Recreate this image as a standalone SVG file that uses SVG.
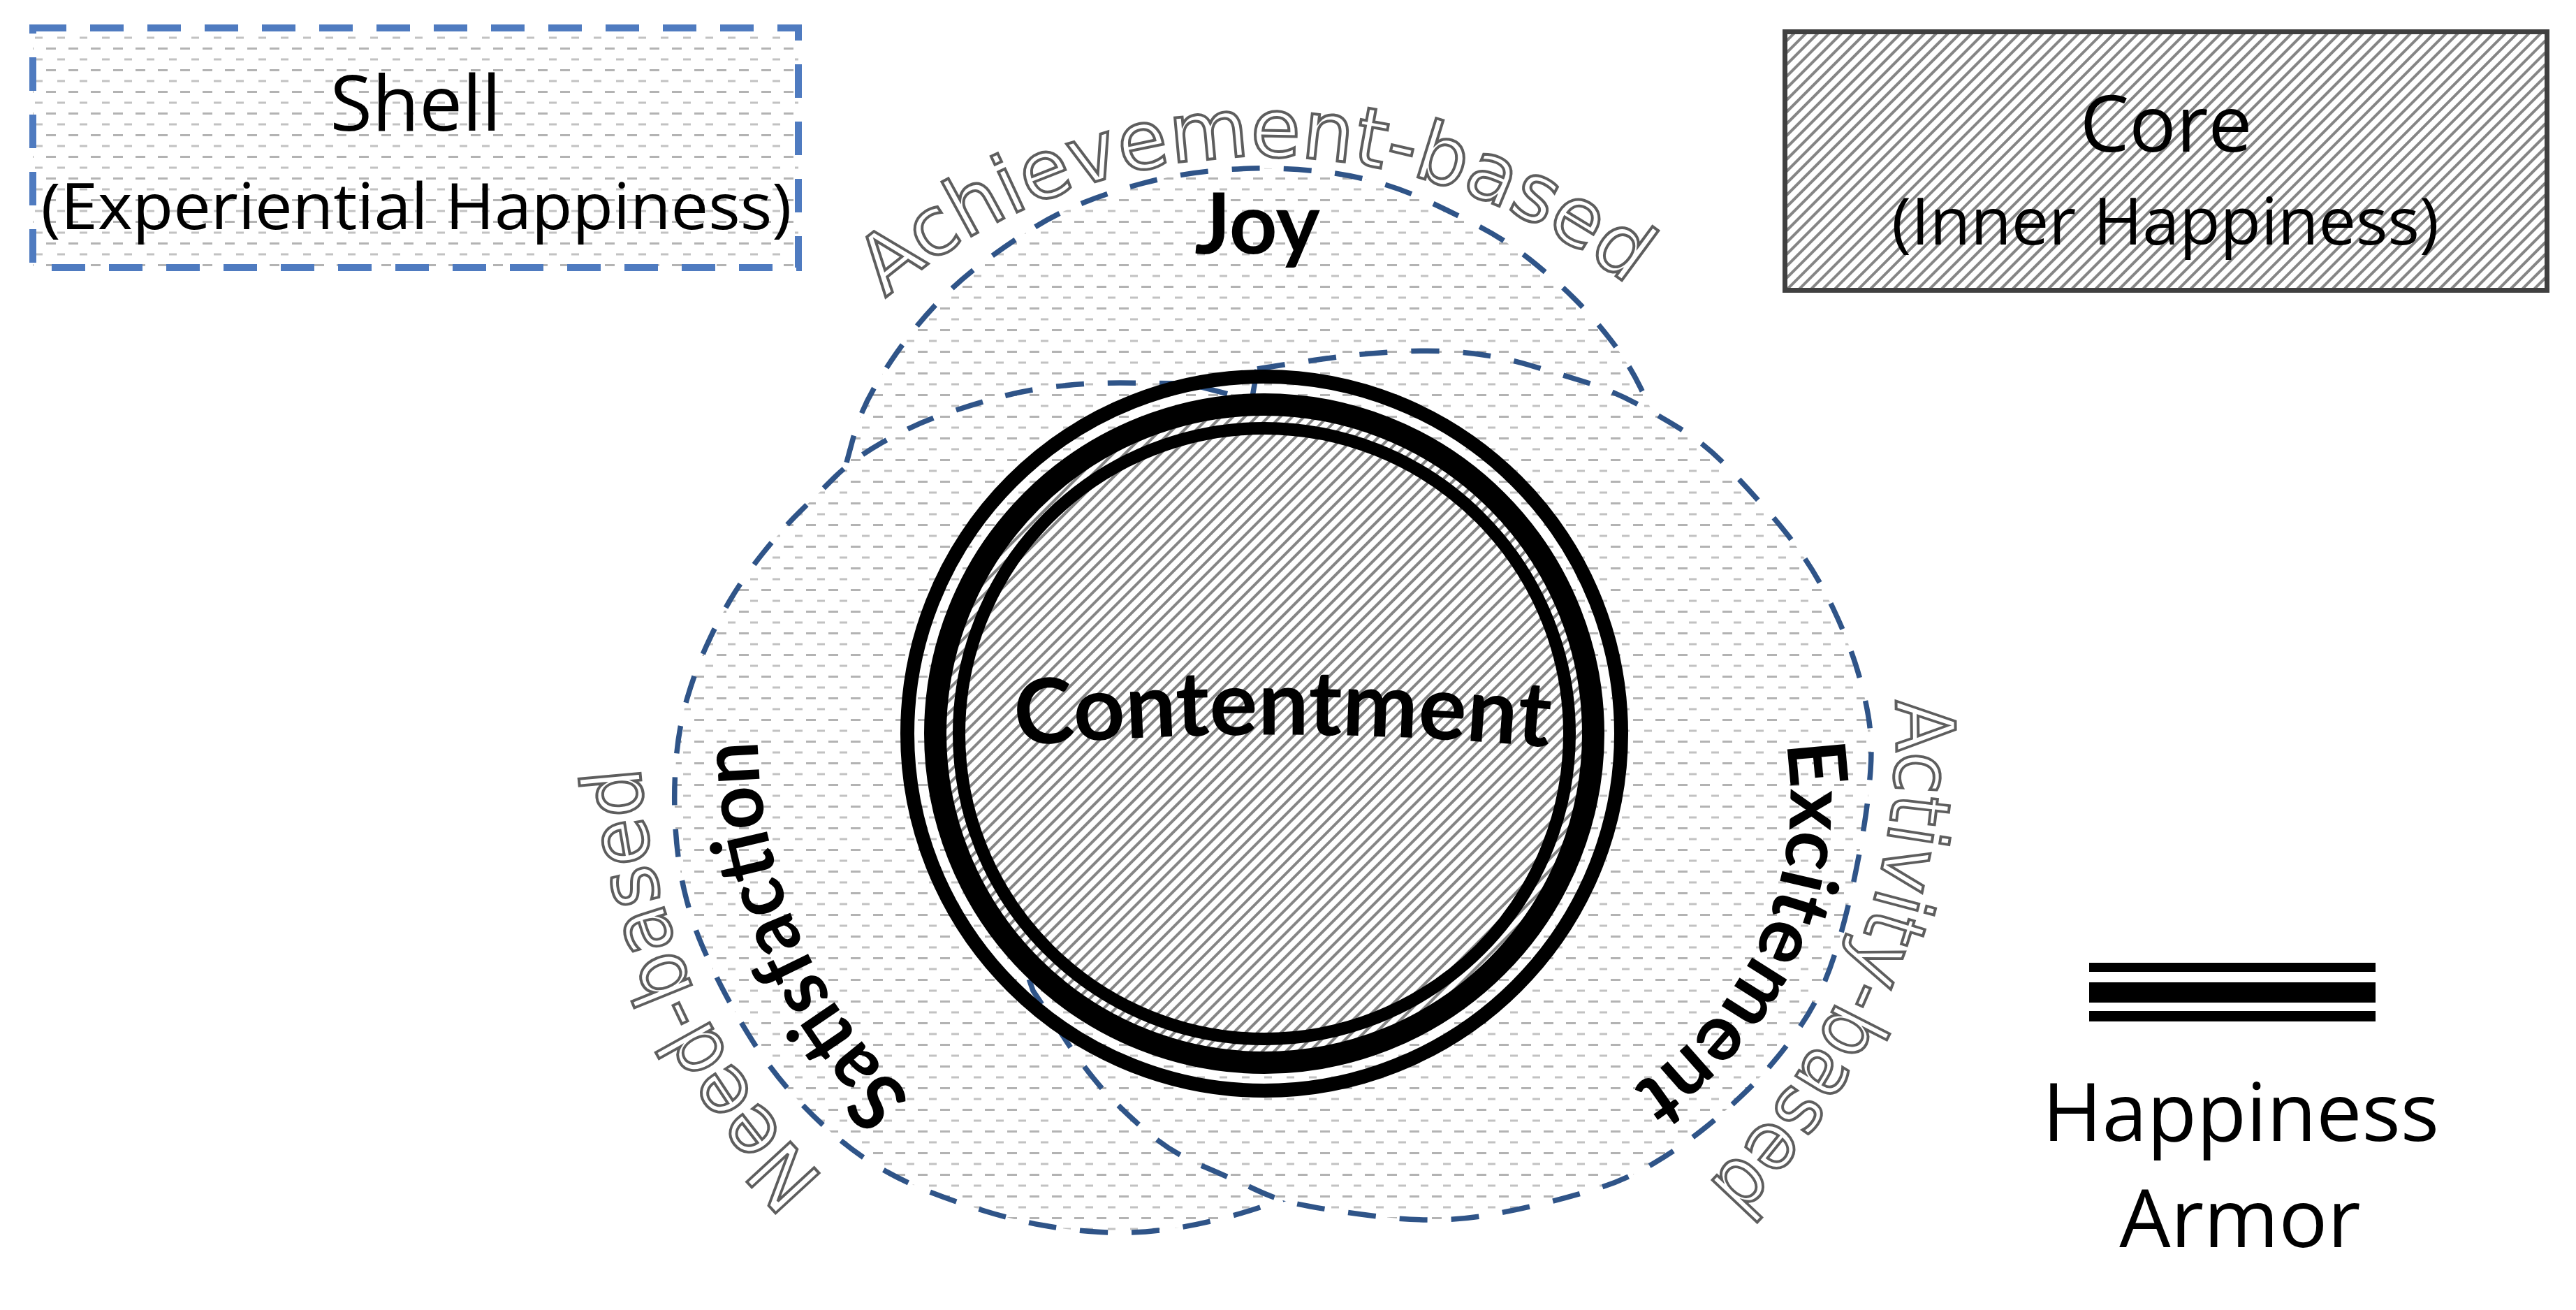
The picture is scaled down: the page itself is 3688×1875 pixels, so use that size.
<svg xmlns="http://www.w3.org/2000/svg" width="3688" height="1875" viewBox="0 0 3688 1875">
<defs>
  <pattern id="shellPat" patternUnits="userSpaceOnUse" width="32" height="31">
    <rect width="32" height="31" fill="#fff"/>
    <rect x="2" y="6" width="14" height="3" fill="#b3b3b3"/>
    <rect x="18" y="21.5" width="11" height="3" fill="#c2c2c2"/>
  </pattern>
  <pattern id="hatch" patternUnits="userSpaceOnUse" width="12" height="12" patternTransform="rotate(45)">
    <rect width="12" height="12" fill="#fff"/>
    <rect x="0" y="0" width="4" height="12" fill="#858585"/>
  </pattern>
  <path id="pAch" d="M1125.2 588.1 A826 826 0 0 1 2478.3 564.5"/>
  <path id="pNeed" d="M1351.1 1818.4 A895 895 0 0 1 931 881.6"/>
  <path id="pAct" d="M2689 834.9 A905 905 0 0 1 2312.8 1802.5"/>
  <path id="pSat" d="M1456.9 1683.2 A725 725 0 0 1 1107 872.7"/>
  <path id="pExc" d="M2520.2 939.7 A495 495 0 0 1 2221 1611.8"/>
  <path id="pCon" d="M1380 1075 Q1836 1027 2292 1077"/>
</defs>
<style>
  .blob{fill:url(#shellPat);stroke:#2f5488;stroke-width:7.5;stroke-dasharray:40 34;}
  .lbl{font-family:Lato,"Open Sans",sans-serif;font-weight:700;fill:#000;}
  .outl{font-family:"DejaVu Sans",sans-serif;font-size:116px;fill:#fff;stroke:#5e5e5e;stroke-width:4;}
  .leg{font-family:"Open Sans","Noto Sans",sans-serif;fill:#000;text-anchor:middle;}
  .ring{fill:none;stroke:#000;}
</style>
<rect width="3688" height="1875" fill="#fff"/>

<g id="legend-shell">
  <rect x="47" y="40" width="1096" height="343" fill="url(#shellPat)" stroke="#4f7bc0" stroke-width="10" stroke-dasharray="48 34"/>
  <text class="leg" x="595" y="187" font-size="110">Shell</text>
  <text class="leg" x="596" y="328" font-size="92" textLength="1075" lengthAdjust="spacingAndGlyphs">(Experiential Happiness)</text>
</g>

<g id="legend-core">
  <rect x="2555.5" y="45.5" width="1091" height="370" fill="url(#hatch)" stroke="#404040" stroke-width="7"/>
  <text class="leg" x="3101" y="217" font-size="112">Core</text>
  <text class="leg" x="3100" y="350" font-size="94" textLength="784" lengthAdjust="spacingAndGlyphs">(Inner Happiness)</text>
</g>

<g id="legend-armor">
  <rect x="2991" y="1378" width="410" height="13" fill="#000"/>
  <rect x="2991" y="1406" width="410" height="29" fill="#000"/>
  <rect x="2991" y="1447" width="410" height="15" fill="#000"/>
  <text class="leg" x="3208" y="1633" font-size="116">Happiness</text>
  <text class="leg" x="3207" y="1785" font-size="116">Armor</text>
</g>

<g id="joy">
  <path class="blob" d="M1212 662 L1222 625 Q1232 588 1254 551 Q1276 514 1301 481.5 Q1326 449 1354 421.5 Q1382 394 1416.5 369 Q1451 344 1482.5 324.5 Q1514 305 1551.5 290 Q1589 275 1635.5 262.5 Q1682 250 1731 245 Q1780 240 1820 241 Q1860 242 1895.5 246 Q1931 250 1968.5 260 Q2006 270 2043.5 287.5 Q2081 305 2118.5 324.5 Q2156 344 2190.5 371.5 Q2225 399 2253 426.5 Q2281 454 2306 486.5 Q2331 519 2348 553.5 L2365 588 L2300 660 L1810 800 L1300 730 Z"/>
  <text class="lbl" x="1800" y="363" font-size="120" text-anchor="middle">Joy</text>
  <text class="outl"><textPath href="#pAch" startOffset="50%" text-anchor="middle" textLength="1153" lengthAdjust="spacingAndGlyphs">Achievement-based</textPath></text>
</g>

<g id="satisfaction">
  <path class="blob" d="M1700 549 L1604 548 Q1557 548 1513.5 553 Q1470 558 1432.5 568 Q1395 578 1351 593 Q1307 608 1263.5 633 Q1220 658 1195 683 Q1170 708 1145 732.5 Q1120 757 1092 792 Q1064 827 1045 859.5 Q1026 892 1010.5 926.5 Q995 961 983.5 1000.5 Q972 1040 968 1087 Q964 1134 967 1184 Q970 1234 980 1276 Q990 1318 1005 1353 Q1020 1388 1038.5 1423 Q1057 1458 1079 1492.5 Q1101 1527 1129 1559.5 Q1157 1592 1191.5 1622 Q1226 1652 1260.5 1672 Q1295 1692 1332.5 1706.5 Q1370 1721 1410.5 1733.5 Q1451 1746 1491.5 1753.5 Q1532 1761 1576 1763.5 Q1620 1766 1660.5 1761 Q1701 1756 1741.5 1746 Q1782 1736 1816 1724 L1850 1712 L2000 1640 L2200 1400 L2250 1050 L2100 650 L1900 600 Z"/>
  <text class="lbl" font-size="115"><textPath href="#pSat" startOffset="50%" text-anchor="middle" textLength="571" lengthAdjust="spacingAndGlyphs">Satisfaction</textPath></text>
  <text class="outl"><textPath href="#pNeed" startOffset="50%" text-anchor="middle" textLength="661" lengthAdjust="spacingAndGlyphs">Need-based</textPath></text>
</g>

<g id="excitement">
  <path class="blob" d="M1800 528 Q1887 514 1931 509 Q1975 504 2022 502.5 Q2069 501 2109.5 506 Q2150 511 2187.5 522 Q2225 533 2265.5 545.5 Q2306 558 2343.5 578 Q2381 598 2412.5 618 Q2444 638 2475 670.5 Q2506 703 2534 735 Q2562 767 2584 799.5 Q2606 832 2625 872 Q2644 912 2656 949 Q2668 986 2674.5 1023 Q2681 1060 2678 1102 Q2675 1144 2668.5 1184 Q2662 1224 2653 1266 Q2644 1308 2631.5 1350.5 Q2619 1393 2603 1425.5 Q2587 1458 2559 1495 Q2531 1532 2500 1562 Q2469 1592 2437.5 1617 Q2406 1642 2368.5 1664.5 Q2331 1687 2293.5 1699 Q2256 1711 2215.5 1721 Q2175 1731 2134.5 1738.5 Q2094 1746 2053 1746 Q2012 1746 1971.5 1741 Q1931 1736 1900 1731 Q1869 1726 1847.5 1721 Q1826 1716 1795 1701.5 Q1764 1687 1723 1669.5 Q1682 1652 1651 1627 Q1620 1602 1588.5 1569.5 Q1557 1537 1520 1480 L1479 1418 L1420 1250 L1500 800 L1790 585 Z"/>
  <text class="lbl" font-size="115"><textPath href="#pExc" startOffset="50%" text-anchor="middle" textLength="570" lengthAdjust="spacingAndGlyphs">Excitement</textPath></text>
  <text class="outl"><textPath href="#pAct" startOffset="50%" text-anchor="middle" textLength="766" lengthAdjust="spacingAndGlyphs">Activity-based</textPath></text>
</g>

<g id="contentment">
  <circle cx="1810" cy="1050" r="471" fill="url(#hatch)"/>
  <circle class="ring" cx="1810" cy="1050" r="511" stroke-width="20"/>
  <circle class="ring" cx="1810" cy="1050" r="471" stroke-width="32"/>
  <circle class="ring" cx="1810" cy="1050" r="437" stroke-width="18"/>
  <text class="lbl" font-size="129"><textPath href="#pCon" startOffset="50%" text-anchor="middle">Contentment</textPath></text>
</g>
</svg>
